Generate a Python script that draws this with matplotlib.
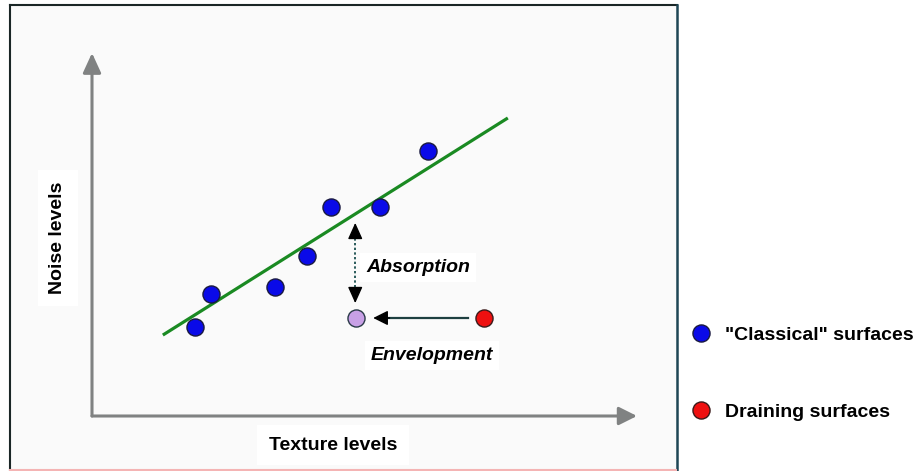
import matplotlib
matplotlib.use("Agg")
import matplotlib.pyplot as plt
from matplotlib.patches import Rectangle
from matplotlib.lines import Line2D

plt.rcParams['font.family'] = ['Liberation Sans', 'DejaVu Sans']

# ---- data (arbitrary units; origin at the axis arrows' crossing) ----
classical_x = [1.89, 2.18, 3.36, 3.94, 4.39, 5.28, 6.17]
classical_y = [2.45, 3.36, 3.55, 4.41, 5.76, 5.76, 7.30]
fit_x = [1.30, 7.63]
fit_y = [2.23, 8.21]
draining_x = [7.19]
draining_y = [2.70]
enveloped_x = [4.84]
enveloped_y = [2.70]
absorption_x = 4.83
absorption_y = [3.11, 5.32]
envelop_arrow_x = [6.90, 5.16]
envelop_arrow_y = 2.70
labels = ['"Classical" surfaces', 'Draining surfaces']

W, H = 915, 471
fig = plt.figure(figsize=(W / 100, H / 100), dpi=100)
fig.patch.set_facecolor('white')

def fx(px):
    return px / W

def fy(py):
    return 1 - py / H

# outer frame
fig.add_artist(Rectangle((fx(10), fy(470)), fx(677) - fx(10), fy(5) - fy(470),
                         transform=fig.transFigure, facecolor='#fafafa',
                         edgecolor='none', zorder=0))
fig.add_artist(Line2D([fx(10), fx(10)], [fy(470), fy(5)], transform=fig.transFigure,
                      color='#1a2626', lw=1.5))
fig.add_artist(Line2D([fx(10), fx(677)], [fy(5), fy(5)], transform=fig.transFigure,
                      color='#1a2626', lw=1.5))
fig.add_artist(Line2D([fx(677), fx(677)], [fy(471), fy(5)], transform=fig.transFigure,
                      color='#1e4655', lw=1.8))
fig.add_artist(Line2D([fx(10), fx(676)], [fy(469.5), fy(469.5)], transform=fig.transFigure,
                      color='#f4b4b4', lw=1.5))

ax = fig.add_axes([fx(92), fy(416), fx(637) - fx(92), fy(53) - fy(416)])
ax.set_xlim(0, 10)
ax.set_ylim(0, 10)
ax.axis('off')
ax.patch.set_alpha(0)

# axis arrows
gray = '#808282'
ax.annotate('', xy=(10, 0), xytext=(0, 0),
            arrowprops=dict(arrowstyle='-|>,head_length=11,head_width=5.5', mutation_scale=1,
                            color=gray, lw=2.2, shrinkA=0, shrinkB=0), annotation_clip=False)
ax.annotate('', xy=(0, 10), xytext=(0, 0),
            arrowprops=dict(arrowstyle='-|>,head_length=12,head_width=5.5', mutation_scale=1,
                            color=gray, lw=2.2, shrinkA=0, shrinkB=0), annotation_clip=False)

# fit line
ax.plot(fit_x, fit_y, color='#1a8a22', lw=2.3, solid_capstyle='butt', zorder=2)

# absorption double arrow
ax.plot([absorption_x, absorption_x], [absorption_y[0] + 0.3, absorption_y[1] - 0.3],
        color='#2a5a5a', lw=1.4, ls=(0, (1.2, 1.2)), zorder=3)
for tip, tail in [(absorption_y[1], absorption_y[1] - 0.35), (absorption_y[0], absorption_y[0] + 0.35)]:
    ax.annotate('', xy=(absorption_x, tip), xytext=(absorption_x, tail),
                arrowprops=dict(arrowstyle='-|>,head_length=10,head_width=4.5', mutation_scale=1,
                                color='black', lw=1, shrinkA=0, shrinkB=0))

# envelopment arrow
ax.plot([envelop_arrow_x[0], envelop_arrow_x[1] + 0.2], [envelop_arrow_y, envelop_arrow_y],
        color='#1d3f40', lw=1.6, zorder=3)
ax.annotate('', xy=(envelop_arrow_x[1], envelop_arrow_y),
            xytext=(envelop_arrow_x[1] + 0.3, envelop_arrow_y),
            arrowprops=dict(arrowstyle='-|>,head_length=9,head_width=4.5', mutation_scale=1,
                            color='black', lw=1, shrinkA=0, shrinkB=0))

# points
ms = 12.3
ax.plot(classical_x, classical_y, ls='none', marker='o', ms=ms, mfc='#0a0ae8',
        mec='#1a1a40', mew=1.0, zorder=4)
ax.plot(enveloped_x, enveloped_y, ls='none', marker='o', ms=ms, mfc='#c8a0e6',
        mec='#2a3a48', mew=1.0, zorder=4)
ax.plot(draining_x, draining_y, ls='none', marker='o', ms=ms, mfc='#ee1010',
        mec='#3a1a1a', mew=1.0, zorder=4)

# annotations
ax.text(5.03, 3.97, 'Absorption', fontsize=14, fontweight='bold', style='italic',
        va='baseline', ha='left', zorder=5,
        bbox=dict(boxstyle='square,pad=0.3', fc='white', ec='none'))
ax.text(6.24, 1.54, 'Envelopment', fontsize=14, fontweight='bold', style='italic',
        va='baseline', ha='center', zorder=5,
        bbox=dict(boxstyle='square,pad=0.3', fc='white', ec='none'))

fig.text(fx(58), fy(238), 'Noise levels', rotation=90, fontsize=14, fontweight='bold',
         ha='center', va='center',
         bbox=dict(boxstyle='square,pad=0.6', fc='white', ec='none'))
fig.text(fx(333), fy(445), 'Texture levels', fontsize=14, fontweight='bold',
         ha='center', va='center',
         bbox=dict(boxstyle='square,pad=0.6', fc='white', ec='none'))

# legend
handles = [Line2D([], [], ls='none', marker='o', ms=ms, mfc='#0a0ae8', mec='#1a1a40', mew=1.0),
           Line2D([], [], ls='none', marker='o', ms=ms, mfc='#ee1010', mec='#3a1a1a', mew=1.0)]
leg = fig.legend(handles, labels, loc='upper left', bbox_to_anchor=(fx(691), fy(326)),
                 frameon=False, handlelength=1.0, handletextpad=0.75, labelspacing=3.05,
                 borderpad=0, borderaxespad=0,
                 prop=dict(family='Liberation Sans', weight='bold', size=14))

fig.savefig('out.png', dpi=100)
